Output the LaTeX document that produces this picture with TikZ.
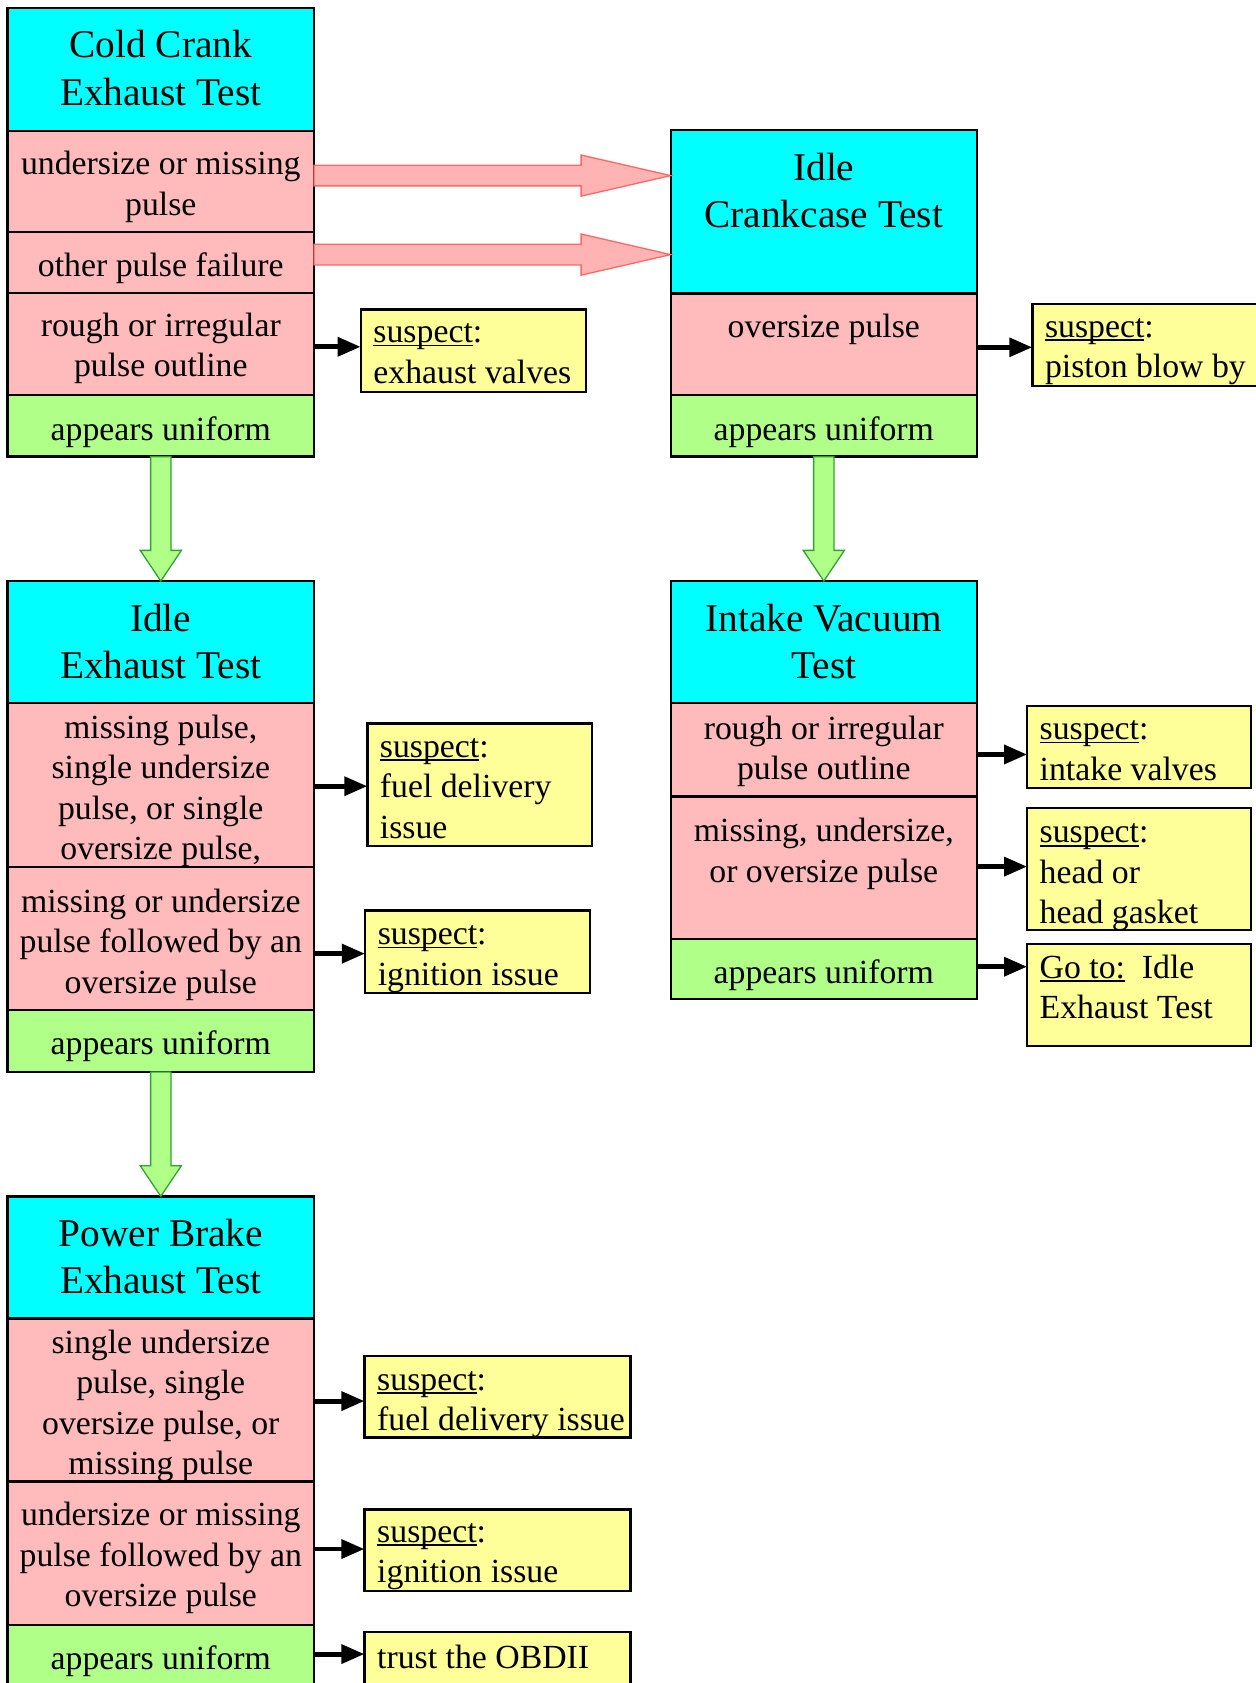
\documentclass[tikz,border=0pt]{standalone}
\usepackage{fontspec}
\setmainfont{Liberation Serif}
\usetikzlibrary{arrows.meta,fit,calc}
\definecolor{cyanc}{HTML}{00FFFF}
\definecolor{pinkc}{HTML}{FFBBBB}
\definecolor{greenc}{HTML}{B0FF88}
\definecolor{yellowc}{HTML}{FFFF99}
\definecolor{pafill}{HTML}{FFB3B3}
\definecolor{padraw}{HTML}{FF6666}
\definecolor{gadraw}{HTML}{33A033}
\newsavebox\ulbox
\newcommand\ulx[1]{\sbox\ulbox{#1}\rlap{\rule[-0.11em]{\wd\ulbox}{0.05em}}\usebox\ulbox}
\newcommand\bodyfont{\fontsize{15.75}{18.9}\selectfont}
\newcommand\hdrfont{\fontsize{18.35}{22}\selectfont}
\newcommand\garrow[2]{\path[garrow] let \p1=(#1.south), \p2=(#2.north) in
  (\x1-4.75pt,\y1) -- (\x1-4.75pt,\y2+14.3pt) -- (\x1-9.6pt,\y2+14.3pt) -- (\x1,\y2)
  -- (\x1+9.6pt,\y2+14.3pt) -- (\x1+4.75pt,\y2+14.3pt) -- (\x1+4.75pt,\y1) -- cycle;}
\newcommand\parrow[3]{\path[parrow] let \p1=(#1.east |- #3), \p2=(#2.west |- #3) in
  (\x1,\y1+4.8pt) -- (\x2-41.8pt,\y1+4.8pt) -- (\x2-41.8pt,\y1+9.6pt) -- (\x2,\y1)
  -- (\x2-41.8pt,\y1-9.6pt) -- (\x2-41.8pt,\y1-4.8pt) -- (\x1,\y1-4.8pt) -- cycle;}
\begin{document}
\begin{tikzpicture}[x=0.5pt,y=-0.5pt,
  box/.style={draw=black,line width=1.1pt,inner sep=0pt,outer sep=0pt},
  hdr/.style={box,fill=cyanc},
  bad/.style={box,fill=pinkc},
  good/.style={box,fill=greenc},
  note/.style={box,fill=yellowc},
  txt/.style={inner sep=0pt,font=\bodyfont,align=center,anchor=base},
  htxt/.style={inner sep=0pt,font=\hdrfont,align=center,anchor=base},
  ntxt/.style={inner sep=0pt,font=\bodyfont,align=left,anchor=base west},
  blk/.style={line width=2.3pt,-{Triangle[length=10.75pt,width=8.6pt]}},
  garrow/.style={fill=greenc,draw=gadraw,line width=0.6pt},
  parrow/.style={fill=pafill,draw=padraw,line width=0.6pt}]
\useasboundingbox (0,0) rectangle (1171.5,1570);
\clip (0,0) rectangle (1171.5,1570);
% Cold Crank Exhaust Test
\node[hdr,fit={(7,7.5)(293,122)}] (cc0) {};
\node[bad,fit={(7,122)(293,216.5)}] (cc1) {};
\node[bad,fit={(7,216.5)(293,273.4)}] (cc2) {};
\node[bad,fit={(7,273.4)(293,368.5)}] (cc3) {};
\node[good,fit={(7,368.5)(293,426)}] (cc4) {};
\node[htxt] (tcc0) at (150,98) {Cold Crank\\Exhaust Test};
\node[txt] (tcc1) at (150,200.6) {undersize or missing\\pulse};
\node[txt] (tcc2) at (150,258) {other pulse failure};
\node[txt] (tcc3) at (150,351.4) {rough or irregular\\pulse outline};
\node[txt] (tcc4) at (150,410.5) {appears uniform};
% Idle Crankcase Test
\node[hdr,fit={(625.7,121.3)(911.3,273.7)}] (ic0) {};
\node[bad,fit={(625.7,273.7)(911.3,368.5)}] (ic1) {};
\node[good,fit={(625.7,368.5)(911.3,426)}] (ic2) {};
\node[htxt] (tic0) at (768.5,212.4) {Idle\\Crankcase Test};
\node[txt] (tic1) at (768.5,314.6) {oversize pulse};
\node[txt] (tic2) at (768.5,410.5) {appears uniform};
% Idle Exhaust Test
\node[hdr,fit={(7,542)(293,656)}] (ie0) {};
\node[bad,fit={(7,656)(293,809)}] (ie1) {};
\node[bad,fit={(7,809)(293,942)}] (ie2) {};
\node[good,fit={(7,942)(293,1000)}] (ie3) {};
\node[htxt] (tie0) at (150,633.3) {Idle\\Exhaust Test};
\node[txt] (tie1) at (150,802) {missing pulse,\\single undersize\\pulse, or single\\oversize pulse,};
\node[txt] (tie2) at (150,926.5) {missing or undersize\\pulse followed by an\\oversize pulse};
\node[txt] (tie3) at (150,983.7) {appears uniform};
% Intake Vacuum Test
\node[hdr,fit={(625.7,542)(911.3,656)}] (iv0) {};
\node[bad,fit={(625.7,656)(911.3,743)}] (iv1) {};
\node[bad,fit={(625.7,743)(911.3,876)}] (iv2) {};
\node[good,fit={(625.7,876)(911.3,932)}] (iv3) {};
\node[htxt] (tiv0) at (768.5,633.3) {Intake Vacuum\\Test};
\node[txt] (tiv1) at (768.5,727.4) {rough or irregular\\pulse outline};
\node[txt] (tiv2) at (768.5,822.9) {missing, undersize,\\or oversize pulse};
\node[txt] (tiv3) at (768.5,917) {appears uniform};
% Power Brake Exhaust Test
\node[hdr,fit={(7,1116)(293,1230)}] (pb0) {};
\node[bad,fit={(7,1230)(293,1382)}] (pb1) {};
\node[bad,fit={(7,1382)(293,1516)}] (pb2) {};
\node[good,fit={(7,1516)(293,1600)}] (pb3) {};
\node[htxt] (tpb0) at (150,1206.9) {Power Brake\\Exhaust Test};
\node[txt] (tpb1) at (150,1375.6) {single undersize\\pulse, single\\oversize pulse, or\\missing pulse};
\node[txt] (tpb2) at (150,1498.7) {undersize or missing\\pulse followed by an\\oversize pulse};
\node[txt] (tpb3) at (150,1557.3) {appears uniform};
% notes
\node[note,fit={(336.5,288.6)(546.5,365.4)}] (s1) {};
\node[note,fit={(963,283.6)(1173,360)}] (s2) {};
\node[note,fit={(342.7,674.8)(552.2,789)}] (sa) {};
\node[note,fit={(340.5,849.2)(550.6,926.2)}] (sb) {};
\node[note,fit={(958.2,658.8)(1167.2,735)}] (sc) {};
\node[note,fit={(958.2,754)(1167.2,867.5)}] (sd) {};
\node[note,fit={(958.2,880.8)(1167.2,975.9)}] (se) {};
\node[note,fit={(340,1265.2)(588.3,1341.1)}] (sf) {};
\node[note,fit={(340,1408)(588.3,1483.9)}] (sg) {};
\node[note,fit={(340,1522.7)(588.3,1600)}] (sh) {};
\node[ntxt] (ts1) at (348,357.5) {\ulx{suspect}:\\exhaust valves};
\node[ntxt] (ts2) at (974.5,352.4) {\ulx{suspect}:\\piston blow by};
\node[ntxt] (tsa) at (354,781.8) {\ulx{suspect}:\\fuel delivery\\issue};
\node[ntxt] (tsb) at (352,919) {\ulx{suspect}:\\ignition issue};
\node[ntxt] (tsc) at (969.5,727.8) {\ulx{suspect}:\\intake valves};
\node[ntxt] (tsd) at (969.5,861.8) {\ulx{suspect}:\\head or\\head gasket};
\node[ntxt] (tse) at (969.5,950.2) {\ulx{Go to:}\ \ Idle\\Exhaust Test};
\node[ntxt] (tsf) at (351.5,1334.5) {\ulx{suspect}:\\fuel delivery issue};
\node[ntxt] (tsg) at (351.5,1476.4) {\ulx{suspect}:\\ignition issue};
\node[ntxt] (tsh) at (351.5,1556.2) {trust the OBDII};
% block arrows
\coordinate (pa1) at (0,163.8);
\coordinate (pa2) at (0,237.5);
\parrow{cc1}{ic0}{pa1}
\parrow{cc2}{ic0}{pa2}
\garrow{cc4}{ie0}
\garrow{ie3}{pb0}
\garrow{ic2}{iv0}
% black arrows
\coordinate (y1) at (0,323.5);
\coordinate (y2) at (0,324);
\coordinate (ya) at (0,733.4);
\coordinate (yb) at (0,889.6);
\coordinate (yc) at (0,703.8);
\coordinate (yd) at (0,808.4);
\coordinate (ye) at (0,901.8);
\coordinate (yf) at (0,1307);
\coordinate (yg) at (0,1445);
\coordinate (yh) at (0,1543);
\draw[blk] (cc3.east |- y1) -- (s1.west |- y1);
\draw[blk] (ic1.east |- y2) -- (s2.west |- y2);
\draw[blk] (ie1.east |- ya) -- (sa.west |- ya);
\draw[blk] (ie2.east |- yb) -- (sb.west |- yb);
\draw[blk] (iv1.east |- yc) -- (sc.west |- yc);
\draw[blk] (iv2.east |- yd) -- (sd.west |- yd);
\draw[blk] (iv3.east |- ye) -- (se.west |- ye);
\draw[blk] (pb1.east |- yf) -- (sf.west |- yf);
\draw[blk] (pb2.east |- yg) -- (sg.west |- yg);
\draw[blk] (pb3.east |- yh) -- (sh.west |- yh);
\end{tikzpicture}
\end{document}
